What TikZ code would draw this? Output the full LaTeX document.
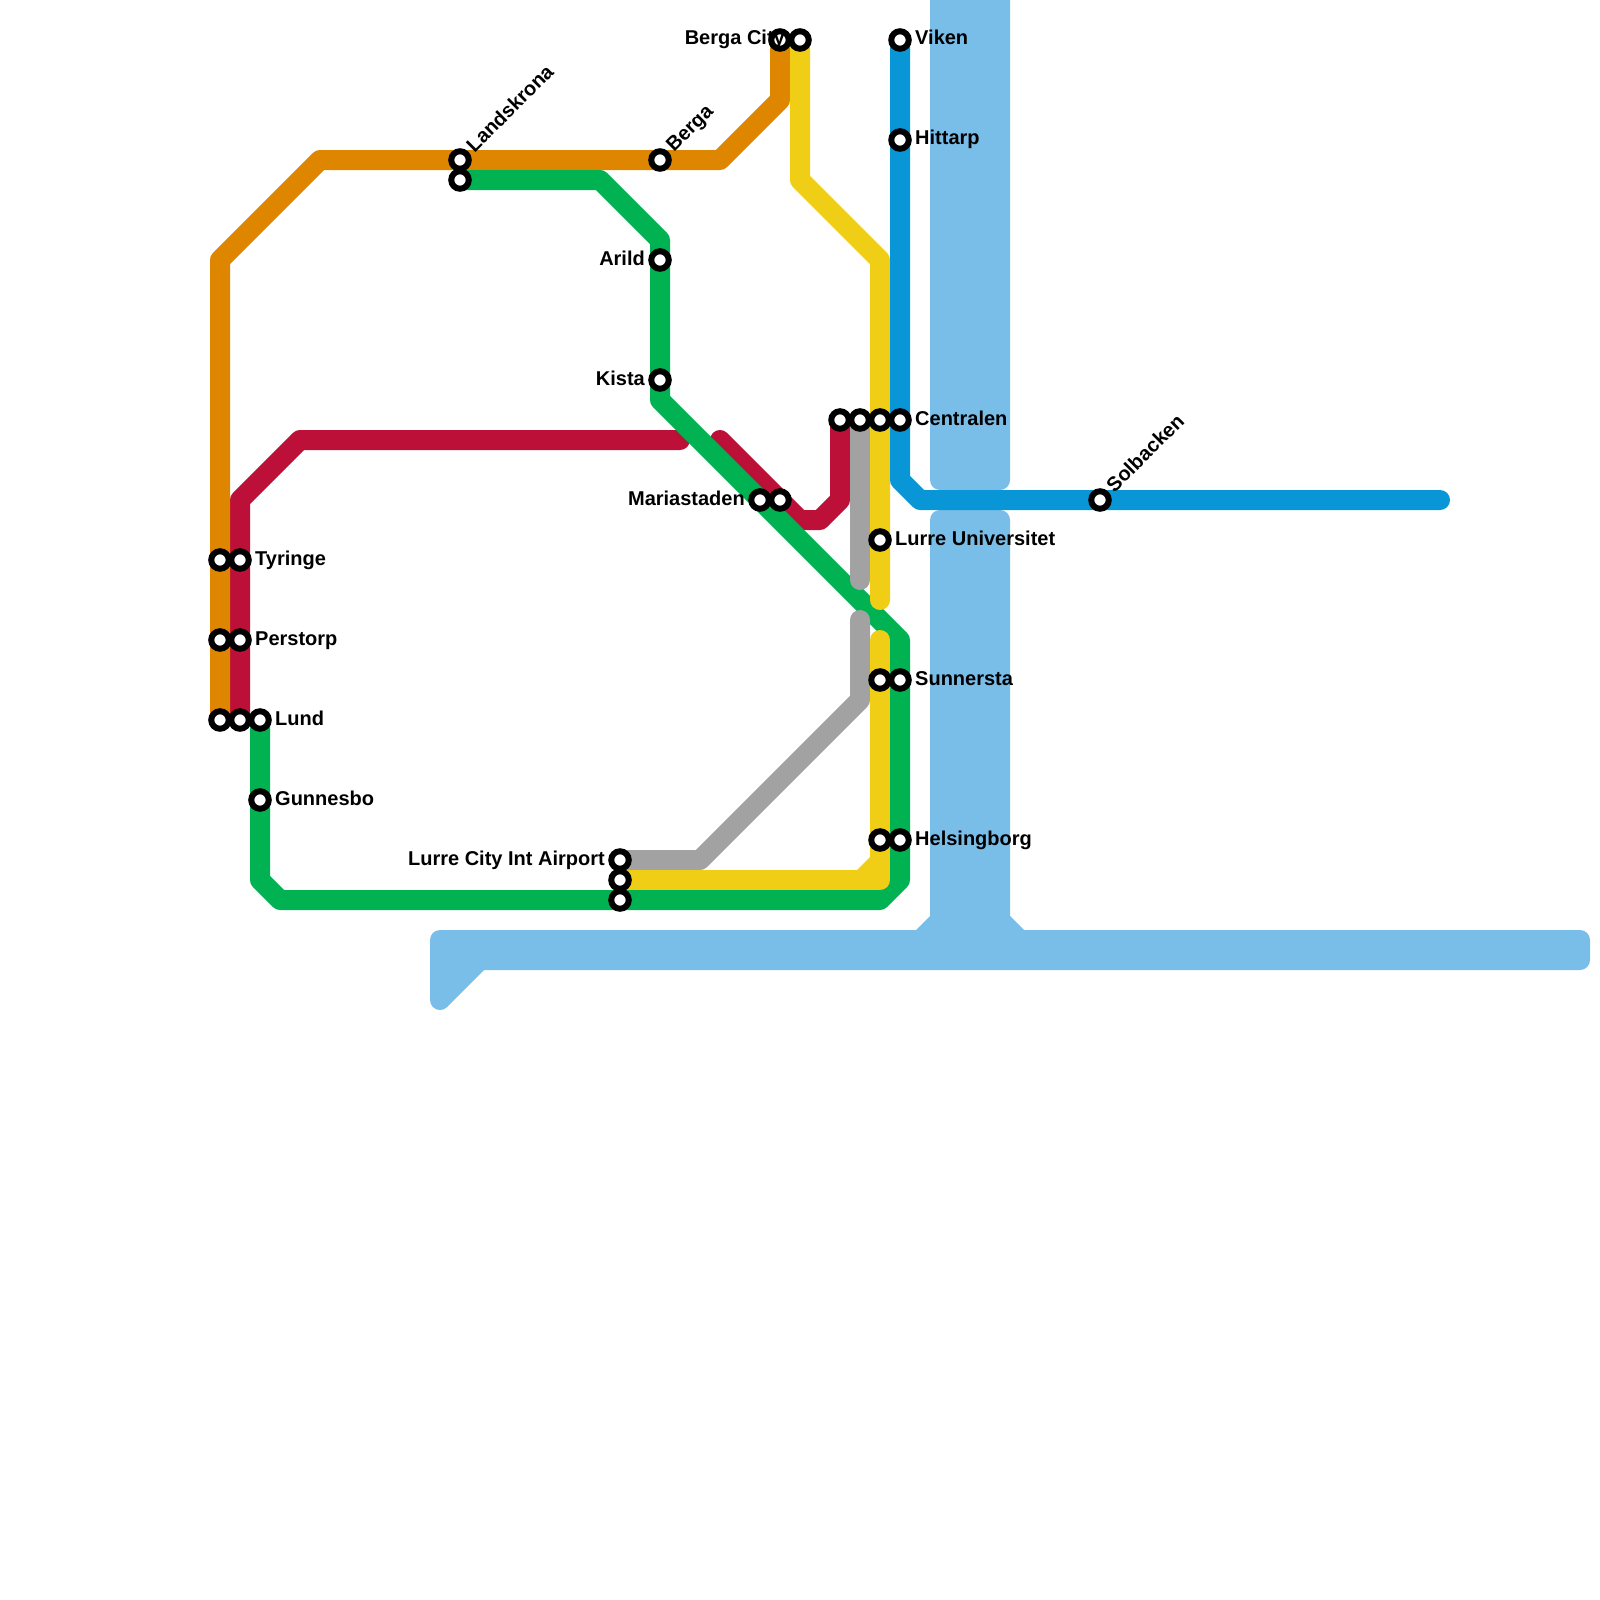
\documentclass[tikz,border=0pt]{standalone}
\usepackage{fontspec}
\setmainfont{Liberation Sans}
\definecolor{cwater}{HTML}{79BDE9}
\definecolor{corange}{HTML}{DF8600}
\definecolor{cred}{HTML}{BD1038}
\definecolor{cgreen}{HTML}{00B251}
\definecolor{cyellow}{HTML}{F0CE15}
\definecolor{cblue}{HTML}{0896D7}
\definecolor{cgray}{HTML}{A2A2A2}
\pgfdeclarelayer{waterlayer}
\pgfdeclarelayer{linelayer}
\pgfsetlayers{waterlayer,linelayer,main}
\tikzset{
  stn/.style={circle,draw=black,fill=white,line width=6pt,minimum size=17.5pt,inner sep=0pt,outer sep=0pt},
  lbl/.style={font=\fontsize{20pt}{22pt}\selectfont\bfseries,inner sep=0pt,text=black},
  lblr/.style={lbl,anchor=base west},
  lbll/.style={lbl,anchor=base east},
  lbld/.style={lbl,anchor=base west,rotate=45},
  metro/.style={line width=20pt,line join=round,line cap=round},
  water/.style={fill=cwater,draw=none},
}
\begin{document}
\begin{tikzpicture}[x=1pt,y=-1pt]
\useasboundingbox (0,0) rectangle (1600,1600);
% stations
\foreach \n/\x/\y in {
  lk/460/160, lkb/460/180, be/660/160, ar/660/260, ki/660/380,
  ma/760/500, mb/780/500, ba/780/40, bb/800/40, vi/900/40, hi/900/140,
  ca/840/420, cb/860/420, cc/880/420, cd/900/420, lu/880/540,
  sa/880/680, sb/900/680, ha/880/840, hb/900/840, so/1100/500,
  aa/620/860, ab/620/880, ac/620/900,
  ta/220/560, tb/240/560, pa/220/640, pb/240/640,
  la/220/720, lb/240/720, lc/260/720, gu/260/800}
  {\node[stn] (\n) at (\x,\y) {};}
% labels
\node[lbld] (tlk) at (474.5,153.5) {Landskrona};
\node[lbld] (tbe) at (674,153) {Berga};
\node[lbld] (tso) at (1114.5,493.5) {Solbacken};
\node[lbll] (tba) at (785,45) {Berga City};
\node[lbll] (tar) at (645,265) {Arild};
\node[lbll] (tki) at (645,385) {Kista};
\node[lbll] (tma) at (745,505) {Mariastaden};
\node[lbll] (taa) at (605,865) {Lurre City Int Airport};
\node[lblr] (tvi) at (915,45) {Viken};
\node[lblr] (thi) at (915,145) {Hittarp};
\node[lblr] (tce) at (915,425) {Centralen};
\node[lblr] (tlu) at (895,545) {Lurre Universitet};
\node[lblr] (tsu) at (915,685) {Sunnersta};
\node[lblr] (the) at (915,845) {Helsingborg};
\node[lblr] (tty) at (255,565) {Tyringe};
\node[lblr] (tpe) at (255,645) {Perstorp};
\node[lblr] (tlu2) at (275,725) {Lund};
\node[lblr] (tgu) at (275,805) {Gunnesbo};
\begin{pgfonlayer}{waterlayer}
\fill[water,rounded corners=10pt] (930,-20) -- (1010,-20) -- (1010,490) -- (930,490) -- cycle;
\fill[water,rounded corners=10pt] (930,950) -- (930,510) -- (1010,510) -- (1010,950) -- cycle;
\fill[water] (916,930) -- (930,916) -- (1010,916) -- (1024,930) -- cycle;
\fill[water,rounded corners=10pt] (430,930) -- (1590,930) -- (1590,970) -- (430,970) -- cycle;
\fill[water] (430,950) -- (484,950) -- (484,970) -- (447.07,1007.07) -- (440,1000) -- (430,1000) -- cycle;
\fill[water] (440,1000) circle[radius=10pt];
\end{pgfonlayer}
\begin{pgfonlayer}{linelayer}
\draw[metro,cred] (lb.center) -- (tb.center) -- (240,500) -- (300,440) -- (680,440);
\draw[metro,cred] (720,440) -- (mb.center) -- (800,520) -- (820,520) -- (840,500) -- (ca.center);
\draw[metro,corange] (la.center) -- (220,260) -- (320,160) -- (lk.center) -- (be.center) -- (720,160) -- (780,100) -- (ba.center);
\draw[metro,cgreen] (lc.center) -- (gu.center) -- (260,880) -- (280,900) -- (ac.center) -- (880,900) -- (900,880) -- (hb.center) -- (sb.center) -- (900,640) -- (860,600) -- (ma.center) -- (660,400) -- (ki.center) -- (ar.center) -- (660,240) -- (600,180) -- (lkb.center);
\draw[metro,cgray] (cb.center) -- (860,580);
\draw[metro,cgray] (860,620) -- (860,700) -- (700,860) -- (aa.center);
\draw[metro,cyellow] (bb.center) -- (800,180) -- (880,260) -- (cc.center) -- (lu.center) -- (880,600);
\draw[metro,cyellow] (880,640) -- (sa.center) -- (ha.center) -- (880,880) -- (ab.center);
\fill[cyellow] (856,871) -- (871,856) -- (880,880) -- cycle;
\draw[metro,cblue] (vi.center) -- (hi.center) -- (cd.center) -- (900,480) -- (920,500) -- (so.center) -- (1440,500);
\end{pgfonlayer}
\end{tikzpicture}
\end{document}
